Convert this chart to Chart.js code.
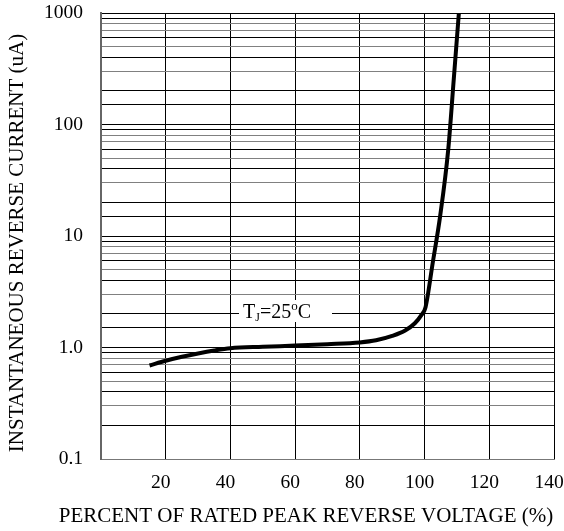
<!DOCTYPE html>
<html>
<head>
<meta charset="utf-8">
<script src="https://cdn.jsdelivr.net/npm/chart.js@4/dist/chart.umd.min.js"></script>
<style>
  html, body { margin: 0; padding: 0; background: #fff; }
  #wrap { width: 564px; height: 531px; }
</style>
</head>
<body>
<div id="wrap"><canvas id="chart" width="564" height="531"></canvas></div>
<script>
// --- datos ---
const voltagePct = [15, 20, 25, 30, 35, 40, 50, 60, 70, 80, 85, 90, 94, 97, 99, 100.3, 102.5, 104.8, 107.3, 109, 110.6];
const currentUA = [0.69, 0.76, 0.825, 0.885, 0.94, 0.985, 1.015, 1.04, 1.07, 1.11, 1.16, 1.27, 1.42, 1.65, 1.95, 2.3, 5.7, 15, 59, 250, 1000];

const xTicks = [20, 40, 60, 80, 100, 120, 140];
const yMajorLabels = { 0.1: '0.1', 1: '1.0', 10: '10', 100: '100', 1000: '1000' };

const xTitle = 'PERCENT OF RATED PEAK REVERSE VOLTAGE (%)';
const yTitle = 'INSTANTANEOUS REVERSE CURRENT (uA)';

const serif = '"Liberation Serif", "Times New Roman", serif';

function mantissa(v) {
    const e = Math.floor(Math.log10(v) + 1e-9);
    return Math.round(v / Math.pow(10, e));
}

// etiquetas de ejes y la caja T_J
const extras = {
    id: 'extras',
    beforeDatasetsDraw(chart) {
        const ctx = chart.ctx;
        ctx.save();
        ctx.fillStyle = '#fff';
        ctx.fillRect(239, 300, 93, 22);
        ctx.fillStyle = '#000';
        ctx.textBaseline = 'alphabetic';
        ctx.font = '20px ' + serif;
        let x = 243;
        const y = 318;
        ctx.fillText('T', x, y);
        x += ctx.measureText('T').width;
        ctx.font = '12px ' + serif;
        ctx.fillText('J', x, y + 3);
        x += ctx.measureText('J').width;
        ctx.font = '20px ' + serif;
        ctx.fillText('=25', x, y);
        x += ctx.measureText('=25').width;
        ctx.font = '13px ' + serif;
        ctx.fillText('o', x, y - 8);
        x += ctx.measureText('o').width;
        ctx.font = '20px ' + serif;
        ctx.fillText('C', x, y);
        ctx.restore();
    },
    afterDraw(chart) {
        const ctx = chart.ctx;
        ctx.save();
        ctx.fillStyle = '#000';
        ctx.font = '21px ' + serif;
        ctx.textAlign = 'center';
        ctx.textBaseline = 'middle';
        ctx.fillText(xTitle, 306, 516);
        ctx.translate(17, 243);
        ctx.rotate(-Math.PI / 2);
        ctx.fillText(yTitle, 0, 0);
        ctx.restore();
    }
};

const chartCtx = document.getElementById('chart').getContext('2d');
new Chart(chartCtx, {
    type: 'line',
    data: {
        datasets: [{
            data: voltagePct.map((v, i) => ({ x: v, y: currentUA[i] })),
            borderColor: '#000',
            borderWidth: 4,
            pointRadius: 0,
            cubicInterpolationMode: 'monotone',
            fill: false
        }]
    },
    options: {
        responsive: false,
        animation: false,
        devicePixelRatio: 1,
        layout: { padding: { top: 13, right: 10, bottom: 0, left: 0 } },
        plugins: {
            legend: { display: false },
            tooltip: { enabled: false }
        },
        scales: {
            x: {
                type: 'linear',
                min: 0,
                max: 140,
                afterBuildTicks: s => { s.ticks = [0].concat(xTicks).map(v => ({ value: v })); },
                afterFit: s => { s.height = 72; s.paddingLeft = 0; s.paddingRight = 0; },
                ticks: {
                    padding: 12,
                    labelOffset: -5,
                    maxRotation: 0,
                    color: '#000',
                    font: { family: serif, size: 19.5 },
                    callback: v => (v === 0 ? '' : String(v))
                },
                grid: {
                    drawTicks: false,
                    color: c => (c.tick && c.tick.value === 0 ? '#777' : '#000'),
                    lineWidth: 1
                },
                border: { color: '#777', width: 1 }
            },
            y: {
                type: 'logarithmic',
                min: 0.1,
                max: 1000,
                afterFit: s => { s.width = 101; s.paddingTop = 0; s.paddingBottom = 0; },
                ticks: {
                    padding: 18,
                    autoSkip: false,
                    color: '#000',
                    font: { family: serif, size: 19.5 },
                    callback: v => yMajorLabels[v] || ''
                },
                grid: {
                    drawTicks: false,
                    lineWidth: 1,
                    color: c => {
                        if (!c.tick) return '#000';
                        const m = mantissa(c.tick.value);
                        return [1, 2, 4, 6, 9].includes(m) ? '#000' : '#808080';
                    }
                },
                border: { color: '#666', width: 2 }
            }
        }
    },
    plugins: [extras]
});
</script>
</body>
</html>
